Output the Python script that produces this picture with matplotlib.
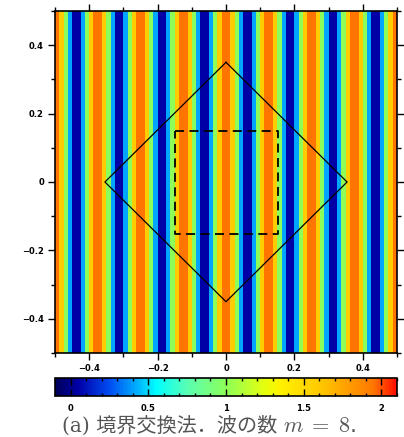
import numpy as np
import matplotlib
matplotlib.use("Agg")
from matplotlib import pyplot as plt
from matplotlib.colors import LinearSegmentedColormap
from matplotlib.ticker import MultipleLocator, FixedLocator

plt.rcParams['mathtext.fontset'] = 'cm'

# data
m = 8                       # wave number
x_lim = [-0.5, 0.5]
y_lim = [-0.5, 0.5]
n_cells = 80                # grid cells per side
diamond_x = [0.0, 0.354, 0.0, -0.354, 0.0]
diamond_y = [0.35, 0.0, -0.35, 0.0, 0.35]
box_x = [-0.148, 0.153, 0.153, -0.148, -0.148]
box_y = [0.15, 0.15, -0.152, -0.152, 0.15]
vmin, vmax = -0.1, 2.1
cbar_ticks = [0, 0.5, 1, 1.5, 2]
cbar_labels = ['0', '0.5', '1', '1.5', '2']
axis_ticks = [-0.4, -0.2, 0, 0.2, 0.4]
axis_labels = ['\u22120.4', '\u22120.2', '0', '0.2', '0.4']
caption_text = '(a) 境界交換法．波の数 '
caption_math = '$m\\;=\\;8$.'

cmap_values = [-0.1, 0.05, 0.25, 0.41, 0.55, 0.75, 1.0, 1.25, 1.35, 1.59, 1.95, 2.1]
cmap_colors = [(0.00, 0.00, 0.35), (0.00, 0.00, 0.66), (0.00, 0.30, 0.95),
               (0.00, 0.65, 1.00), (0.00, 1.00, 1.00), (0.35, 1.00, 0.70),
               (0.55, 1.00, 0.35), (0.90, 1.00, 0.05), (1.00, 0.95, 0.00),
               (1.00, 0.80, 0.00), (1.00, 0.47, 0.00), (1.00, 0.05, 0.00)]
stops = [((v - vmin) / (vmax - vmin), c) for v, c in zip(cmap_values, cmap_colors)]
cmap = LinearSegmentedColormap.from_list('bar', stops)

# cell-centred grid
edges = np.linspace(x_lim[0], x_lim[1], n_cells + 1)
centres = (edges[:-1] + edges[1:]) / 2
X, Y = np.meshgrid(centres, centres)
field = 1 + np.cos(2 * np.pi * m * X)

fig = plt.figure(figsize=(4.04, 4.37), dpi=100)
ax = fig.add_axes([55 / 404, 1 - 353 / 437, 342 / 404, 342 / 437])
im = ax.pcolormesh(edges, edges, field, cmap=cmap, vmin=vmin, vmax=vmax)

ax.plot(diamond_x, diamond_y, color='black', lw=0.9)
ax.plot(box_x, box_y, color='black', lw=1.3, dashes=(5, 3))

ax.set_xlim(x_lim)
ax.set_ylim(y_lim)
ax.xaxis.set_major_locator(FixedLocator(axis_ticks))
ax.yaxis.set_major_locator(FixedLocator(axis_ticks))
ax.xaxis.set_minor_locator(MultipleLocator(0.1))
ax.yaxis.set_minor_locator(MultipleLocator(0.1))
ax.set_xticklabels(axis_labels, fontsize=6, fontweight='bold')
ax.set_yticklabels(axis_labels, fontsize=6, fontweight='bold')
ax.tick_params(which='major', direction='out', length=5, width=1,
               top=True, right=True, pad=3)
ax.tick_params(which='minor', direction='out', length=3, width=1,
               top=True, right=True)
for s in ax.spines.values():
    s.set_linewidth(1.2)

cax = fig.add_axes([55 / 404, 1 - 396 / 437, 342 / 404, 18 / 437])
cb = fig.colorbar(im, cax=cax, orientation='horizontal')
cb.set_ticks(cbar_ticks)
cb.set_ticklabels(cbar_labels, fontsize=6, fontweight='bold')
cax.xaxis.set_minor_locator(MultipleLocator(0.1))
cax.tick_params(which='major', direction='in', length=5, width=1,
                top=True, bottom=True, pad=6)
cax.tick_params(which='minor', direction='in', length=2.5, width=1,
                top=True, bottom=True)
cb.outline.set_linewidth(1.2)

# caption: CJK part and math part as two texts side by side
t1 = fig.text(0.153, 0.012, caption_text,
              family=['DejaVu Serif', 'Noto Sans CJK JP'], fontsize=14.5,
              color='#555555', ha='left', va='baseline')
fig.canvas.draw()
bb = t1.get_window_extent()
fig.text(bb.x1 / fig.bbox.width, 0.012, caption_math, fontsize=16,
         color='#555555', ha='left', va='baseline')

fig.savefig('out.png', dpi=100)
